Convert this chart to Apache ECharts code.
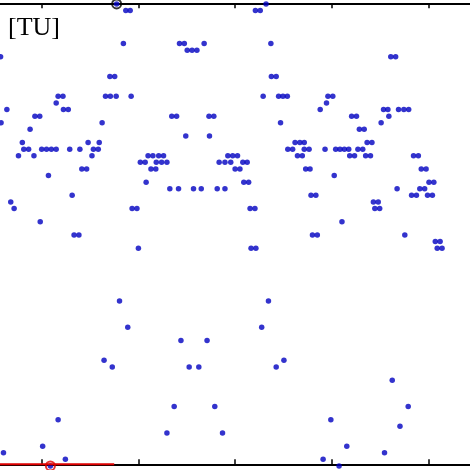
<!DOCTYPE html>
<html>
<head>
<meta charset="utf-8">
<script src="https://cdn.jsdelivr.net/npm/echarts@6/dist/echarts.min.js"></script>
<style>
html,body{margin:0;padding:0;background:#fff;}
#chart{width:470px;height:470px;}
</style>
</head>
<body>
<div id="chart"></div>
<script>
// y levels (rows, counted downward from top axis) and x values of points in each row
const levels = [0,1,6,7,8,11,14,15,16,17,18,19,20,21,22,23,24,25,26,27,28,29,30,31,33,35,36,37,45,49,51,54,55,57,61,63,64,65,67,68,69,70];
const xRow0  = [15.5, 46.4];
const xRow1  = [17.4, 18.3, 44.2, 45.2];
const xRow6  = [16.9, 28.5, 29.5, 33.6, 47.4];
const xRow7  = [30.1, 31.1, 32.1];
const xRow8  = [-8.5, 72.2, 73.2];
const xRow11 = [14.1, 15.1, 47.5, 48.5];
const xRow14 = [3.4, 4.4, 13.2, 14.2, 15.4, 18.5, 45.8, 49.0, 49.9, 50.8, 59.2, 60.2];
const xRow15 = [3.0, 58.9];
const xRow16 = [-7.2, 4.5, 5.5, 57.6, 70.7, 71.6, 73.8, 74.9, 75.9];
const xRow17 = [-1.4, -0.4, 26.9, 27.9, 34.6, 35.6, 64.1, 65.1, 71.8];
const xRow18 = [-8.4, 12.5, 49.4, 70.2];
const xRow19 = [-2.4, 65.7, 66.7];
const xRow20 = [29.8, 34.7];
const xRow21 = [-4.0, 9.6, 11.9, 52.4, 53.4, 54.3, 67.3, 68.3];
const xRow22 = [-3.7, -2.7, 0.0, 1.0, 2.0, 3.0, 5.8, 7.9, 10.7, 11.7, 50.9, 51.9, 54.3, 55.3, 58.6, 60.8, 61.7, 62.6, 63.5, 65.4, 66.4];
const xRow23 = [-4.8, -1.6, 10.4, 22.0, 23.0, 24.2, 25.2, 38.5, 39.5, 40.5, 52.9, 53.9, 63.7, 64.7, 67.0, 68.0, 76.9, 77.9];
const xRow24 = [20.4, 21.4, 23.7, 24.8, 25.9, 36.7, 37.9, 39.1, 41.6, 42.5];
const xRow25 = [8.3, 9.3, 22.6, 23.6, 40.0, 41.0, 54.6, 55.5, 78.5, 79.5];
const xRow26 = [1.4, 60.5];
const xRow27 = [21.6, 41.8, 42.8, 80.1, 81.1];
const xRow28 = [26.5, 28.3, 31.4, 33.0, 36.3, 37.9, 73.5, 78.2, 79.2];
const xRow29 = [6.3, 55.7, 56.7, 76.5, 77.5, 79.8, 80.8];
const xRow30 = [-6.4, 68.6, 69.6];
const xRow31 = [-5.7, 18.7, 19.7, 43.1, 44.1, 68.9, 69.9];
const xRow33 = [-0.3, 62.1];
const xRow35 = [6.7, 7.7, 56.0, 57.0, 75.1];
const xRow36 = [81.4, 82.4];
const xRow37 = [20.0, 43.3, 44.3, 81.8, 82.8];
const xRow45 = [16.1, 46.9];
const xRow49 = [17.8, 45.5];
const xRow51 = [28.8, 34.2];
const xRow54 = [12.9, 50.1];
const xRow55 = [14.6, 30.5, 32.5, 48.5];
const xRow57 = [72.5];
const xRow61 = [27.4, 35.8, 75.8];
const xRow63 = [3.4, 59.8];
const xRow64 = [74.1];
const xRow65 = [25.9, 37.4];
const xRow67 = [0.2, 63.1];
const xRow68 = [-7.9, 70.9];
const xRow69 = [4.9, 58.2];
const xRow70 = [1.8, 61.5];
const rows = [xRow0,xRow1,xRow6,xRow7,xRow8,xRow11,xRow14,xRow15,xRow16,xRow17,xRow18,xRow19,xRow20,xRow21,xRow22,xRow23,xRow24,xRow25,xRow26,xRow27,xRow28,xRow29,xRow30,xRow31,xRow33,xRow35,xRow36,xRow37,xRow45,xRow49,xRow51,xRow54,xRow55,xRow57,xRow61,xRow63,xRow64,xRow65,xRow67,xRow68,xRow69,xRow70];

// highlighted points and red segment
const markTop = [[15.5, 0]];
const markBottom = [[1.8, 70]];
const redSegX = [-9, 15];
const redSegY = 69.75;

// visible axis window and tick values
const xMin = -8.62, xMax = 88.58;
const xTicks = [0, 20, 40, 60, 80];
const yMin = -0.1, yMax = 69.75;
const label = '[TU]';

const pts = [];
levels.forEach((lv, i) => rows[i].forEach(x => pts.push([x, lv])));

const chart = echarts.init(document.getElementById('chart'), null, {renderer: 'canvas'});
const axisCommon = {
  type: 'value', min: xMin, max: xMax,
  axisLine: {show: true, onZero: false, lineStyle: {color: '#000', width: 2}},
  axisTick: {show: true, inside: true, length: 5, customValues: xTicks, lineStyle: {color: '#000', width: 1.5}},
  axisLabel: {show: false}, splitLine: {show: false}
};
chart.setOption({
  animation: false,
  backgroundColor: '#fff',
  grid: {left: 0, right: 0, top: 3.3, height: 461, containLabel: false},
  xAxis: [
    Object.assign({position: 'bottom'}, axisCommon),
    Object.assign({position: 'top'}, axisCommon)
  ],
  yAxis: {type: 'value', inverse: true, min: yMin, max: yMax, show: false},
  graphic: [{
    type: 'text', left: 8, top: 15,
    style: {text: label, font: '26px "Liberation Serif", "Times New Roman", serif', fill: '#000'}
  }],
  series: [
    {type: 'scatter', data: pts, symbol: 'circle', symbolSize: 5.5, clip: false, silent: true,
     itemStyle: {color: '#0000c0'}, z: 3},
    {type: 'line', data: redSegX.map(x => [x, redSegY]), symbol: 'none', clip: false, silent: true,
     lineStyle: {color: '#dd0000', width: 2}, z: 4},
    {type: 'scatter', data: markTop, symbol: 'circle', symbolSize: 9, clip: false, silent: true,
     itemStyle: {color: 'rgba(0,0,0,0)', borderColor: '#000', borderWidth: 2}, z: 5},
    {type: 'scatter', data: markBottom, symbol: 'circle', symbolSize: 9, clip: false, silent: true,
     itemStyle: {color: 'rgba(0,0,0,0)', borderColor: '#e00000', borderWidth: 2}, z: 5}
  ]
});
</script>
</body>
</html>
